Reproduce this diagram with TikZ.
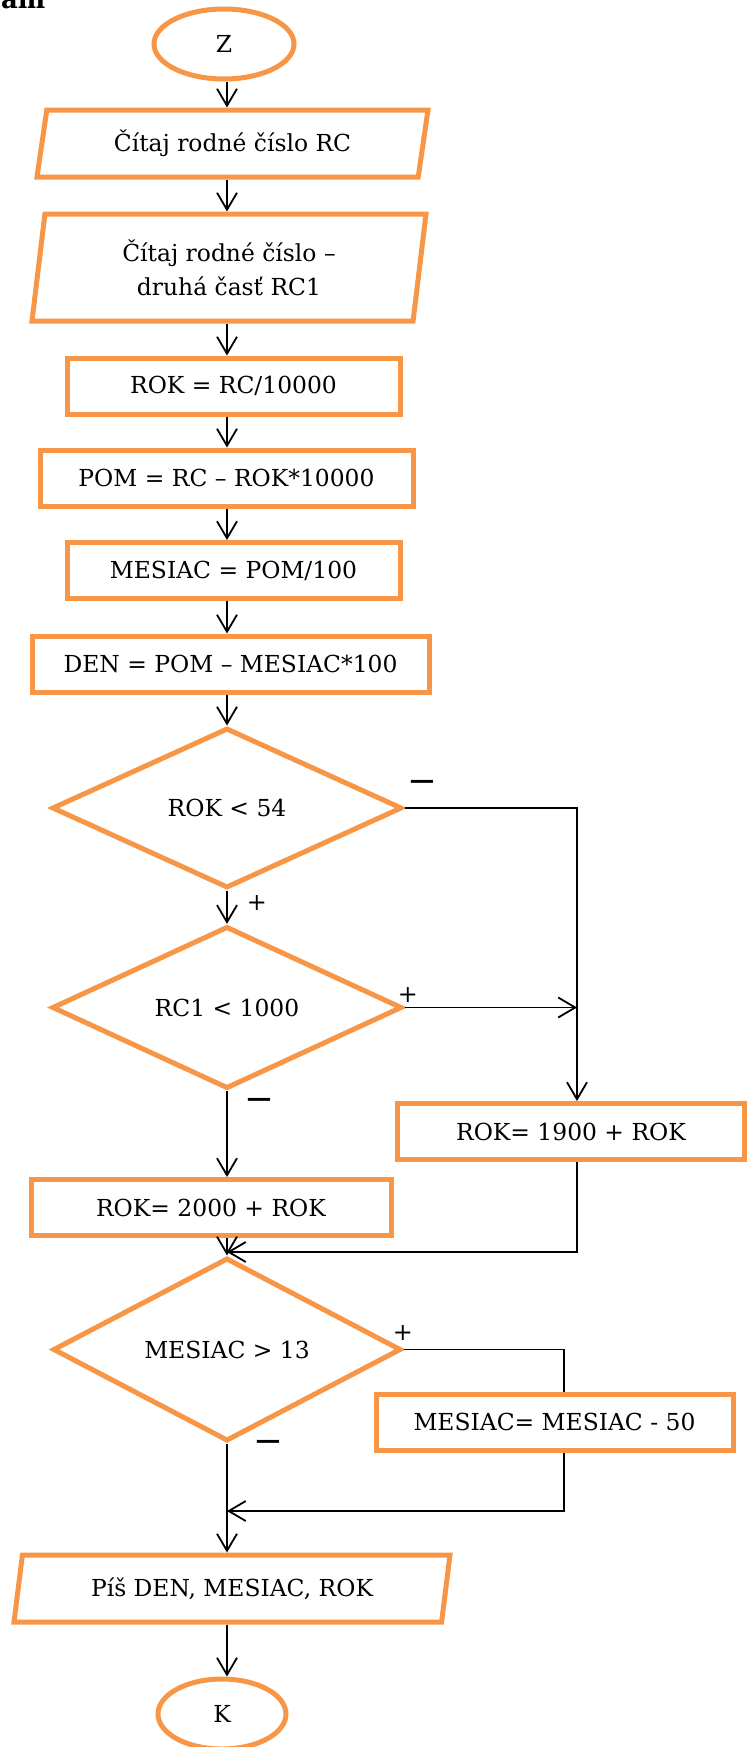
\documentclass[tikz,border=0pt]{standalone}
\usepackage{fontspec}
\setmainfont{DejaVu Serif}
\usepackage{tikz}
\usetikzlibrary{shapes.geometric,arrows.meta}
\definecolor{oranz}{RGB}{247,150,70}

\begin{document}
\begin{tikzpicture}[
  blok/.style={draw=oranz,line width=5bp,rectangle,inner sep=0pt,minimum height=56bp,font=\fontsize{23.5}{34}\selectfont},
  vstup/.style={draw=oranz,line width=5bp,trapezium,trapezium stretches body,inner sep=0pt,font=\fontsize{23.5}{34}\selectfont},
  rozh/.style={draw=oranz,line width=5bp,diamond,inner sep=0pt,minimum width=350bp,minimum height=160bp,font=\fontsize{23.5}{34}\selectfont},
  konc/.style={draw=oranz,line width=5bp,ellipse,inner sep=0pt,minimum width=140bp,minimum height=70bp,font=\fontsize{23.5}{34}\selectfont},
  sip/.style={-{Straight Barb[length=17bp,width=20bp]},line width=1.8bp},
  ciara/.style={line width=1.8bp},
  znak/.style={inner sep=0pt,font=\fontsize{24}{26}\selectfont},
  minus/.style={inner sep=0pt,font=\fontsize{25}{27}\selectfont\bfseries}
]
\useasboundingbox (0,0) rectangle (748bp,-1747bp);
\coordinate (os) at (227bp,0);
\coordinate (pr) at (577bp,0);
\coordinate (pr2) at (564bp,0);
\coordinate (s1) at (227bp,-1252bp);
\coordinate (s2) at (227bp,-1511bp);

\node (nadpis) at (1bp,-8bp)[anchor=base west,inner sep=0pt,font=\fontsize{26}{28}\selectfont\bfseries] {am};
\node (Z) at (224bp,-44bp)[konc] {Z};
\node (C1) at (232.5bp,-143.5bp)[vstup,trapezium left angle=70,trapezium right angle=110,minimum width=391bp,minimum height=67bp] {Čítaj rodné číslo RC};
\node (C2) at (229bp,-267.5bp)[vstup,align=center,trapezium left angle=77,trapezium right angle=103,minimum width=394bp,minimum height=107bp] {Čítaj rodné číslo –\\druhá časť RC1};
\node (R1) at (233.5bp,-386bp)[blok,minimum width=333bp] {ROK = RC/10000};
\node (R2) at (226.5bp,-478bp)[blok,minimum width=373bp] {POM = RC – ROK*10000};
\node (R3) at (233.5bp,-570.5bp)[blok,minimum width=333bp] {MESIAC = POM/100};
\node (R4) at (230.5bp,-664bp)[blok,minimum width=397bp] {DEN = POM – MESIAC*100};
\node (D1) at (227bp,-808bp)[rozh] {ROK < 54};
\node (D2) at (227bp,-1007.5bp)[rozh] {RC1 < 1000};
\node (R5) at (571bp,-1131.5bp)[blok,minimum width=347bp] {ROK= 1900 + ROK};
\node (R6) at (211bp,-1207.5bp)[blok,minimum width=360bp] {ROK= 2000 + ROK};
\node (D3) at (227bp,-1349.5bp)[rozh,minimum width=348bp] {MESIAC > 13};
\node (R7) at (554.5bp,-1422bp)[blok,minimum width=357bp] {MESIAC= MESIAC - 50};
\node (C3) at (232bp,-1588.5bp)[vstup,trapezium left angle=69,trapezium right angle=111,minimum width=436bp,minimum height=67bp] {Píš DEN, MESIAC, ROK};
\node (K) at (222bp,-1714bp)[konc,minimum width=128bp] {K};

% znamienka vetiev
\node (m1) at (422bp,-784bp)[minus] {—};
\node (p1) at (257bp,-903bp)[znak] {+};
\node (p2) at (408bp,-995bp)[znak] {+};
\node (m2) at (259bp,-1102bp)[minus] {—};
\node (p3) at (403bp,-1333bp)[znak] {+};
\node (m3) at (268bp,-1444bp)[minus] {—};

% hlavna vetva
\draw[sip] (Z.south -| os) -- (C1.north -| os);
\draw[sip] (C1.south -| os) -- (C2.north -| os);
\draw[sip] (C2.south -| os) -- (R1.north -| os);
\draw[sip] (R1.south -| os) -- (R2.north -| os);
\draw[sip] (R2.south -| os) -- (R3.north -| os);
\draw[sip] (R3.south -| os) -- (R4.north -| os);
\draw[sip] (R4.south -| os) -- (D1.north);
\draw[sip] (D1.south) -- (D2.north);
\draw[sip] (D2.south) -- (R6.north -| os);
\draw[sip] (R6.south -| os) -- (D3.north);
\draw[sip] (D3.south) -- (C3.north -| os);
\draw[sip] (C3.south -| os) -- (K.north -| os);

% bocne vetvy
\draw[sip] (D1.east) -- (D1.east -| pr) -- (R5.north -| pr);
\draw[sip] (D2.east) -- (D2.east -| pr);
\draw[sip] (R5.south -| pr) -- (pr |- s1) -- (s1);
\draw[ciara] (D3.east) -- (D3.east -| pr2) -- (R7.north -| pr2);
\draw[sip] (R7.south -| pr2) -- (pr2 |- s2) -- (s2);
\end{tikzpicture}
\end{document}
